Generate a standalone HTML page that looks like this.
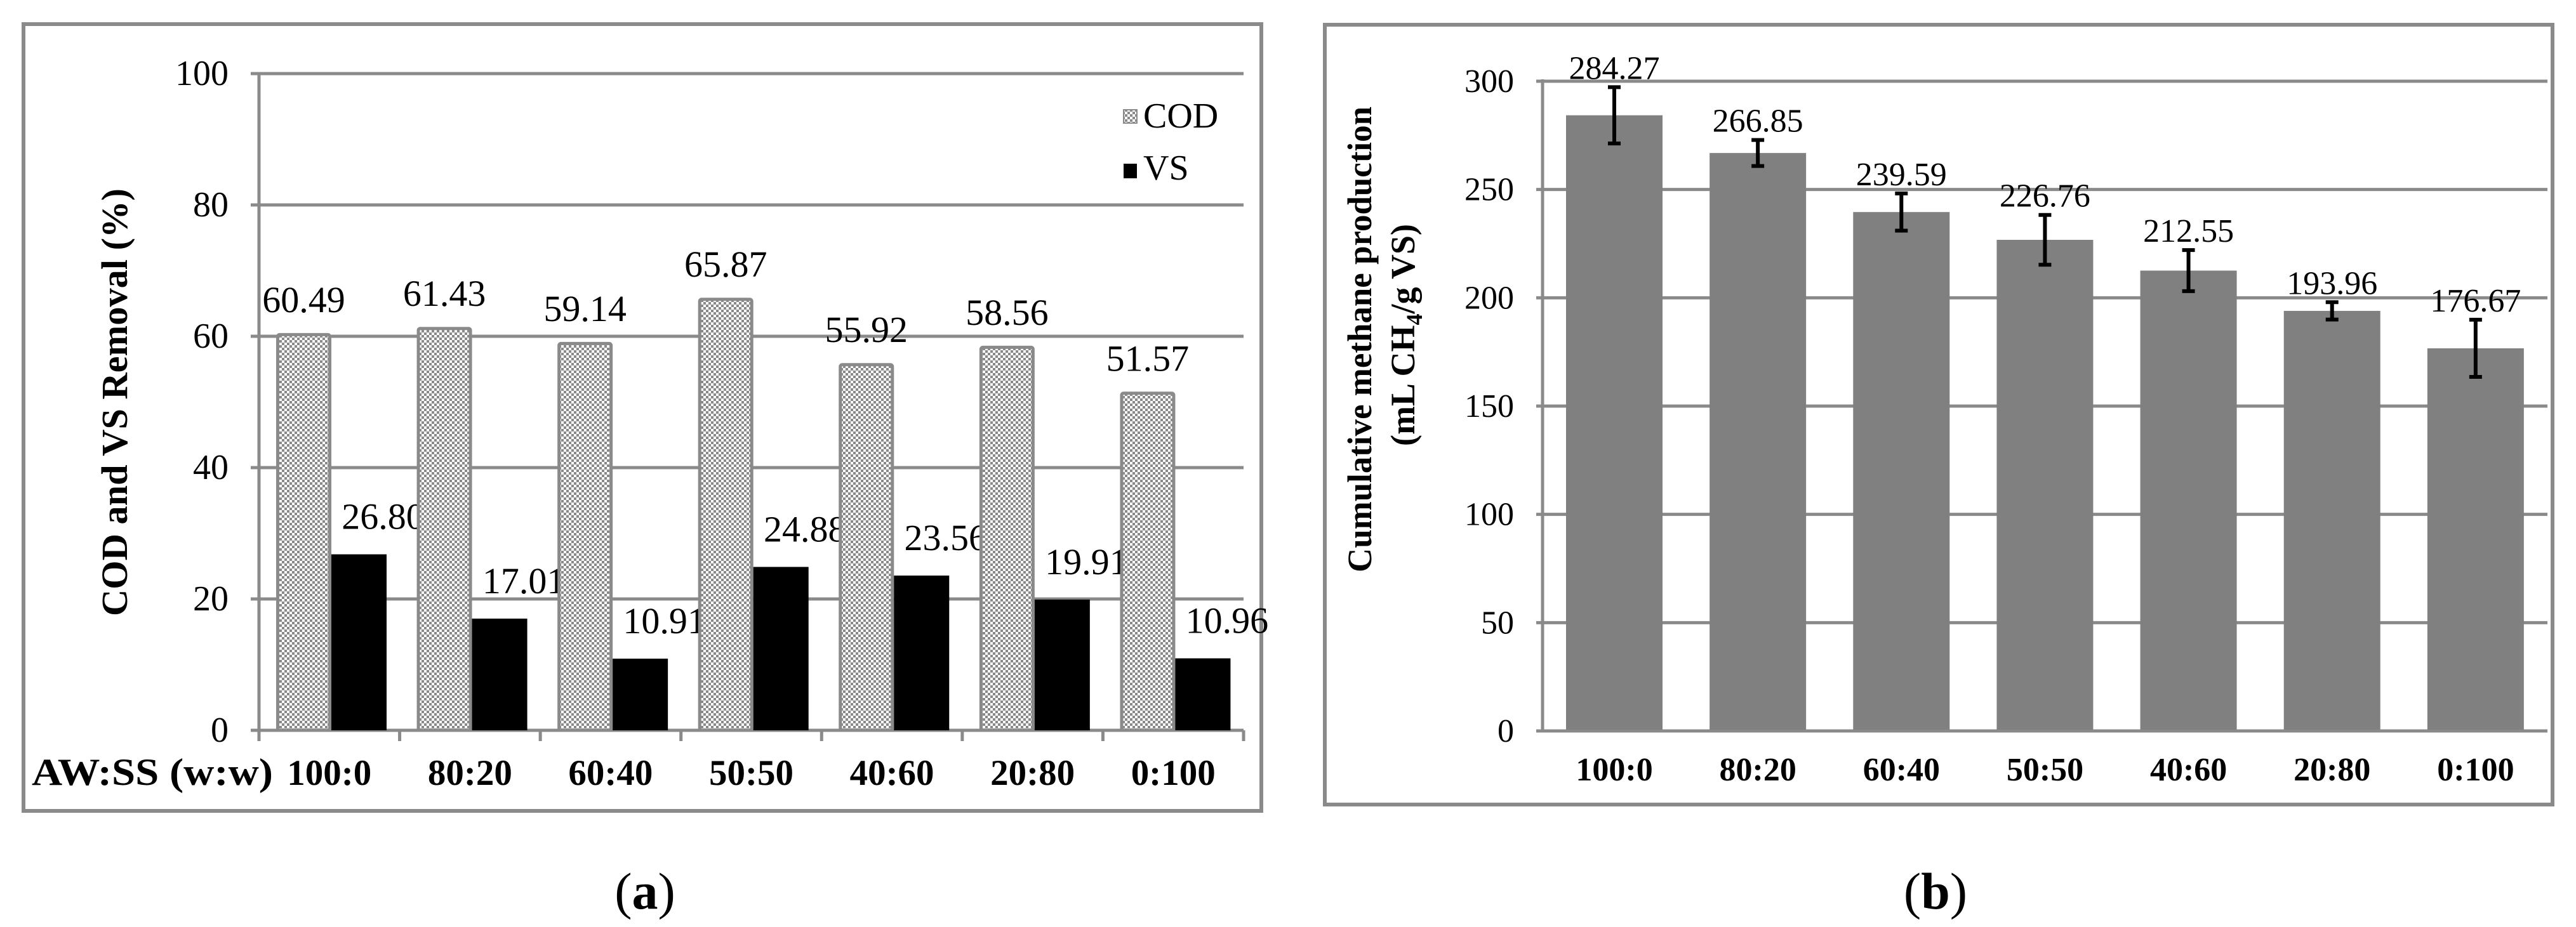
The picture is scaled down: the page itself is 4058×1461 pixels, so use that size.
<!DOCTYPE html>
<html><head><meta charset="utf-8"><style>
html,body{margin:0;padding:0;background:#fff;}
svg{display:block;}
text{font-family:"Liberation Serif",serif;}
</style></head><body>
<svg id="fig" width="4058" height="1461" viewBox="0 0 4058 1461" xmlns="http://www.w3.org/2000/svg">
<defs>
<pattern id="chk" width="8" height="8" patternUnits="userSpaceOnUse">
<rect width="8" height="8" fill="#fff"/>
<rect width="4" height="4" fill="#8a8a8a"/>
<rect x="4" y="4" width="4" height="4" fill="#8a8a8a"/>
</pattern>
</defs>
<rect x="37" y="38" width="1950" height="1240" fill="none" stroke="#8a8a8a" stroke-width="6"/>
<rect x="2087" y="39" width="1934" height="1229" fill="none" stroke="#8a8a8a" stroke-width="6"/>
<g id="ga"></g>
<g id="gb"></g>
<text x="1016" y="1432" font-size="82" text-anchor="middle">(<tspan font-weight="bold">a</tspan>)</text>
<text x="3049" y="1432" font-size="82" text-anchor="middle">(<tspan font-weight="bold">b</tspan>)</text>
</svg>
<script>
const categories = ["100:0","80:20","60:40","50:50","40:60","20:80","0:100"];
const codValues = [60.49,61.43,59.14,65.87,55.92,58.56,51.57];
const vsValues = [26.80,17.01,10.91,24.88,23.56,19.91,10.96];
const codLabels = ["60.49","61.43","59.14","65.87","55.92","58.56","51.57"];
const vsLabels = ["26.80","17.01","10.91","24.88","23.56","19.91","10.96"];
const aTicks = [0,20,40,60,80,100];
const methaneValues = [284.27,266.85,239.59,226.76,212.55,193.96,176.67];
const methaneErrors = [13,6,8.6,11.5,9.5,4,13.2];
const methaneLabels = ["284.27","266.85","239.59","226.76","212.55","193.96","176.67"];
const bTicks = [0,50,100,150,200,250,300];

const NS="http://www.w3.org/2000/svg";
function mk(parent,tag,attrs,txt){const e=document.createElementNS(NS,tag);for(const k in attrs)e.setAttribute(k,attrs[k]);if(txt!==undefined)e.textContent=txt;parent.appendChild(e);return e;}
const GR="#8a8a8a";

// ---------- Chart A ----------
const ga=document.getElementById('ga');
const aX0=408,aX1=1959,aY0=1151,aY1=116;
const aCat=(aX1-aX0)/categories.length;
const ay=v=>aY0-(v/100)*(aY0-aY1);
const axc=i=>aX0+i*aCat;
aTicks.forEach(t=>{
  const l=mk(ga,'line',{x1:aX0-13,x2:aX1,y1:ay(t),y2:ay(t),stroke:GR,'stroke-width':5});
  
  
  const tx=mk(ga,'text',{x:360,y:ay(t)+18,'font-size':56,'text-anchor':'end'},String(t));
  
  
});
let ax=mk(ga,'line',{x1:aX0,x2:aX0,y1:aY1,y2:aY0,stroke:GR,'stroke-width':5});


for(let i=0;i<=categories.length;i++){
  const t=mk(ga,'line',{x1:axc(i),x2:axc(i),y1:aY0,y2:aY0+17,stroke:GR,'stroke-width':5});
  
  
}
categories.forEach((c,i)=>{
  const bx=axc(i)+27, bw=87;
  const r1=mk(ga,'rect',{x:bx+2.5,y:ay(codValues[i])+2.5,width:bw-5,height:aY0-ay(codValues[i])-2.5,fill:'url(#chk)',stroke:GR,'stroke-width':5,rx:3});
  
  
  const r2=mk(ga,'rect',{x:bx+bw,y:ay(vsValues[i]),width:bw,height:aY0-ay(vsValues[i]),fill:'#000'});
  
  
  const l1=mk(ga,'text',{x:bx+bw/2,y:ay(codValues[i])-33,'font-size':58,'text-anchor':'middle'},codLabels[i]);
  
  
  const l2=mk(ga,'text',{x:bx+bw*1.5+38,y:ay(vsValues[i])-40,'font-size':58,'text-anchor':'middle'},vsLabels[i]);
  
  
  const xl=mk(ga,'text',{x:axc(i)+aCat/2,y:1237,'font-size':57,'font-weight':'bold','text-anchor':'middle'},c);
  
  
});
let at=mk(ga,'text',{x:50,y:1237,'font-size':60,'font-weight':'bold',textLength:380,lengthAdjust:'spacingAndGlyphs'},'AW:SS (w:w)');


let yt=mk(ga,'text',{x:0,y:0,'font-size':58,'font-weight':'bold','text-anchor':'middle',transform:'translate(200,634) rotate(-90)',textLength:674,lengthAdjust:'spacingAndGlyphs'},'COD and VS Removal (%)');


let lg1=mk(ga,'rect',{x:1770,y:173,width:21,height:21,fill:'url(#chk)',stroke:GR,'stroke-width':2});


let lt1=mk(ga,'text',{x:1801,y:201,'font-size':56},'COD');


let lg2=mk(ga,'rect',{x:1770,y:258,width:21,height:23,fill:'#000'});


let lt2=mk(ga,'text',{x:1801,y:283,'font-size':56},'VS');



// ---------- Chart B ----------
const gb=document.getElementById('gb');
const bX0=2430,bX1=4013,bY0=1152,bY1=128;
const bCat=(bX1-bX0)/categories.length;
const by=v=>bY0-(v/300)*(bY0-bY1);
const bxc=i=>bX0+i*bCat;
bTicks.forEach(t=>{
  const l=mk(gb,'line',{x1:bX0-10,x2:bX1,y1:by(t),y2:by(t),stroke:GR,'stroke-width':5});
  
  
  const tx=mk(gb,'text',{x:2385,y:by(t)+17,'font-size':52,'text-anchor':'end'},String(t));
  
  
});
let bax=mk(gb,'line',{x1:bX0,x2:bX0,y1:bY1-3,y2:bY0+2,stroke:GR,'stroke-width':5});


categories.forEach((c,i)=>{
  const bx=bxc(i)+37,bw=152,cx=bx+bw/2;
  const r=mk(gb,'rect',{x:bx,y:by(methaneValues[i]),width:bw,height:bY0-2-by(methaneValues[i]),fill:'#808080'});
  
  
  const top=by(methaneValues[i]+methaneErrors[i]),bot=by(methaneValues[i]-methaneErrors[i]);
  const eb=mk(gb,'path',{d:`M${cx},${top}V${bot}M${cx-10},${top}H${cx+10}M${cx-10},${bot}H${cx+10}`,stroke:'#000','stroke-width':6,fill:'none'});
  
  
  const lb=mk(gb,'text',{x:cx,y:top-13,'font-size':52,'text-anchor':'middle'},methaneLabels[i]);
  
  
  const xl=mk(gb,'text',{x:bxc(i)+bCat/2,y:1230,'font-size':52,'font-weight':'bold','text-anchor':'middle'},c);
  
  
});
let t1=mk(gb,'text',{x:0,y:0,'font-size':54,'font-weight':'bold','text-anchor':'middle',transform:'translate(2160,535) rotate(-90)',textLength:734,lengthAdjust:'spacingAndGlyphs'},'Cumulative methane production');


let t2=mk(gb,'text',{x:0,y:0,'font-size':54,'font-weight':'bold','text-anchor':'middle',transform:'translate(2228,528) rotate(-90)'});


t2.innerHTML='(mL CH<tspan font-size="36" dy="12">4</tspan><tspan dy="-12">/g VS)</tspan>';
</script>
</body></html>
